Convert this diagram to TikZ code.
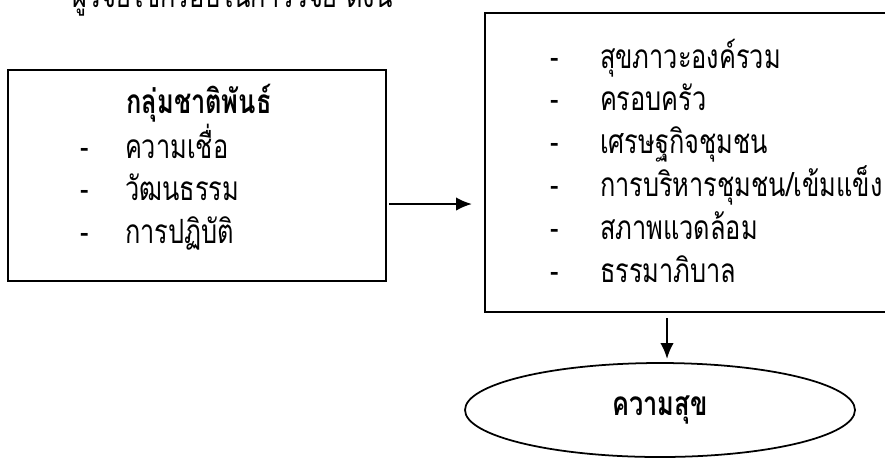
\documentclass[tikz,border=0pt]{standalone}
\usepackage{fontspec}
\newfontfamily\thaifont[Script=Thai,FakeStretch=0.76]{Loma}
\usepackage{tikz}
\usetikzlibrary{arrows.meta, shapes.geometric, positioning, calc}

\begin{document}
\begin{tikzpicture}[every node/.style={outer sep=0pt,font=\thaifont\fontsize{19}{22}\selectfont}]
\tikzstyle{frame}=[draw,line width=1pt,inner sep=0pt]
\tikzstyle{arrow}=[line width=1.2pt,-{Latex[length=0.32cm,width=0.27cm]}]
\tikzstyle{item}=[anchor=base west,inner sep=0pt]
\tikzstyle{bullet}=[anchor=base,inner sep=0pt]

\useasboundingbox (0,0) rectangle (17.7,-9.14);

% line of text above, cut by the page
\node (intro) [item] at (1.44,-0.14) {ผู้วิจัยใช้กรอบในการวิจัย ดังนี้};

% left box
\node (ethnic) [frame, minimum width=7.56cm, minimum height=4.22cm] at (3.94,-3.51) {};
\node (ethnichead) [anchor=base,inner sep=0pt,font=\thaifont\bfseries\fontsize{19}{22}\selectfont] at (3.98,-2.26) {กลุ่มชาติพันธ์};
\foreach \txt [count=\i] in {ความเชื่อ, วัฒนธรรม, การปฏิบัติ}
{
  \node (ld\i) [bullet] at (1.7,{-2.31-0.85*\i}) {-};
  \node (li\i) [item] at (2.5,{-2.31-0.85*\i}) {\txt};
}

% right box
\node (factors) [frame, minimum width=8.1cm, minimum height=5.98cm] at (13.75,-3.25) {};
\foreach \txt [count=\i] in {สุขภาวะองค์รวม, ครอบครัว, เศรษฐกิจชุมชน, การบริหารชุมชน/เข้มแข็ง, สภาพแวดล้อม, ธรรมาภิบาล}
{
  \node (rd\i) [bullet] at (11.1,{-1.36-0.856*(\i-1)}) {-};
  \node (ri\i) [item] at (12.0,{-1.36-0.856*(\i-1)}) {\txt};
}

% ellipse
\node (happy) [draw,ellipse,line width=1pt,minimum width=7.8cm,minimum height=1.88cm,font=\thaifont\bfseries\fontsize{19}{22}\selectfont] at (13.2,-8.2) {ความสุข};

\draw [arrow,shorten <=0.06cm,shorten >=0.26cm] (ethnic.east |- 0,-4.08) -- (factors.west |- 0,-4.08);
\draw [arrow,shorten <=0.12cm,shorten >=0.08cm] (factors.south -| 13.34,0) -- (happy.north -| 13.34,0);
\end{tikzpicture}
\end{document}
